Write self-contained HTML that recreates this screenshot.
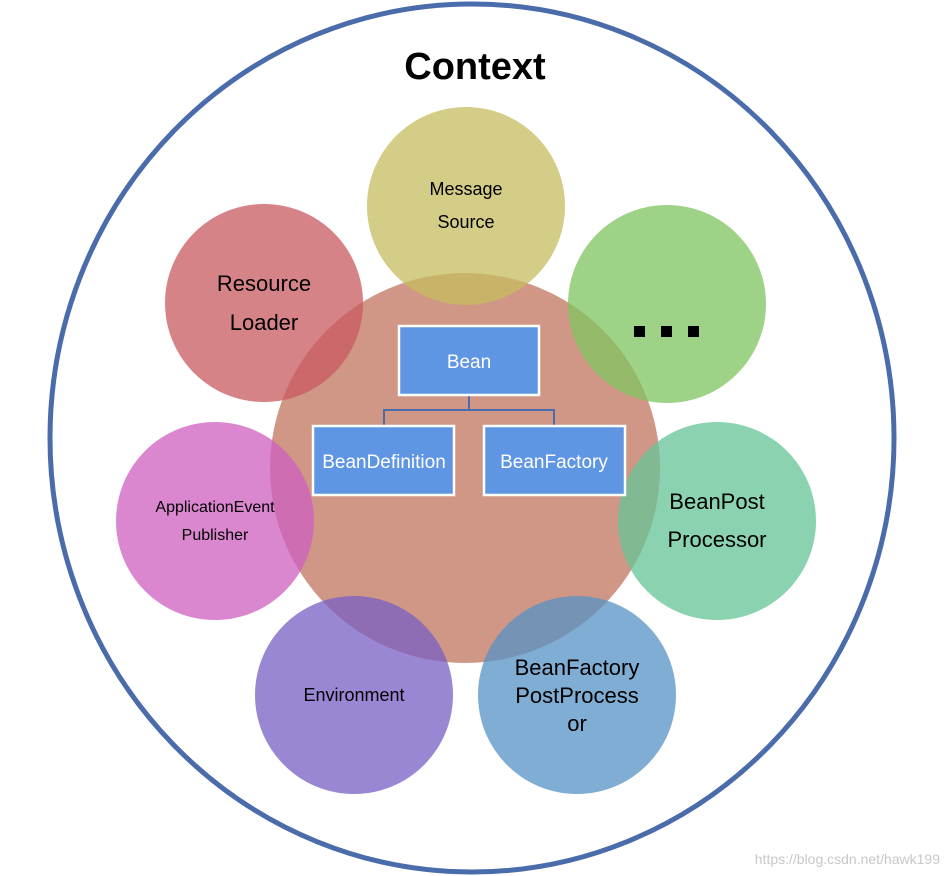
<!DOCTYPE html>
<html><head><meta charset="utf-8"><style>
html,body{margin:0;padding:0;background:#fff;width:951px;height:876px;overflow:hidden}
svg{display:block}
text{font-family:"Liberation Sans",Arial,sans-serif}
</style></head><body>
<svg width="951" height="876" viewBox="0 0 951 876" xmlns="http://www.w3.org/2000/svg">
<defs>
<filter id="sh" x="-20%" y="-20%" width="140%" height="140%"><feGaussianBlur in="SourceAlpha" stdDeviation="2"/><feOffset dx="1" dy="2"/><feComponentTransfer><feFuncA type="linear" slope="0.3"/></feComponentTransfer><feMerge><feMergeNode/><feMergeNode in="SourceGraphic"/></feMerge></filter>
</defs>
<ellipse cx="472" cy="438" rx="422" ry="434" fill="none" stroke="#4a6cab" stroke-width="5"/>
<text x="475" y="79" font-size="38" font-weight="bold" text-anchor="middle" fill="#000">Context</text>
<g opacity="0.78">
<circle cx="465" cy="468" r="195" fill="rgb(196,122,100)"/>
</g>
<circle cx="466" cy="206" r="99" fill="rgba(196,188,95,0.75)"/>
<circle cx="667" cy="304" r="99" fill="rgba(125,196,95,0.75)"/>
<circle cx="264" cy="303" r="99" fill="rgba(200,90,96,0.75)"/>
<circle cx="215" cy="521" r="99" fill="rgba(205,95,192,0.75)"/>
<circle cx="717" cy="521" r="99" fill="rgba(100,196,150,0.75)"/>
<circle cx="354" cy="695" r="99" fill="rgba(120,95,196,0.75)"/>
<circle cx="577" cy="695" r="99" fill="rgba(85,145,196,0.75)"/>
<g font-size="18" fill="#000" text-anchor="middle">
<text x="466" y="195">Message</text><text x="466" y="228">Source</text>
<text x="264" y="291" font-size="22">Resource</text><text x="264" y="330" font-size="22">Loader</text>
<text x="215" y="512" font-size="16">ApplicationEvent</text><text x="215" y="540" font-size="16">Publisher</text>
<text x="717" y="509" font-size="22">BeanPost</text><text x="717" y="547" font-size="22">Processor</text>
<text x="354" y="701">Environment</text>
<text x="577" y="675" font-size="22">BeanFactory</text><text x="577" y="703" font-size="22">PostProcess</text><text x="577" y="731" font-size="22">or</text>
</g>
<g fill="#000"><rect x="634" y="326" width="11" height="11"/><rect x="661" y="326" width="11" height="11"/><rect x="688" y="326" width="11" height="11"/></g>
<path d="M469 395 V410 M384 426 V410 H554 V426" stroke="#4a6cab" stroke-width="2" fill="none"/>
<g fill="#5f96e4" stroke="#fff" stroke-width="2.5">
<rect x="399" y="326" width="140" height="69"/>
<rect x="313" y="426" width="141" height="69"/>
<rect x="484" y="426" width="141" height="69"/>
</g>
<g font-size="19" fill="#fff" text-anchor="middle">
<text x="469" y="368">Bean</text>
<text x="384" y="468">BeanDefinition</text>
<text x="554" y="468">BeanFactory</text>
</g>
<text x="940" y="864" font-size="14" fill="#c8c8c8" text-anchor="end">https://blog.csdn.net/hawk199</text>
</svg>
</body></html>
